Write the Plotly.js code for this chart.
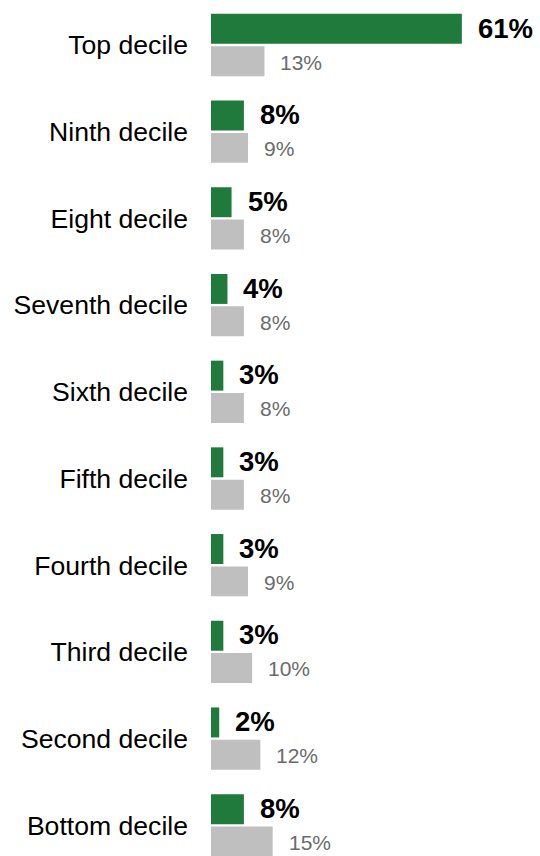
<!DOCTYPE html>
<html><head><meta charset="utf-8">
<script src="https://cdn.plot.ly/plotly-3.0.1.min.js"></script>
<style>html,body{margin:0;padding:0;background:#fff}#chart{width:540px;height:856px}</style>
</head><body><div id="chart"></div>
<script>
const categories = ["Top decile","Ninth decile","Eight decile","Seventh decile","Sixth decile","Fifth decile","Fourth decile","Third decile","Second decile","Bottom decile"];
const greenValues = [61, 8, 5, 4, 3, 3, 3, 3, 2, 8];
const greyValues = [13, 9, 8, 8, 8, 8, 9, 10, 12, 15];
const greenLabels = greenValues.map(v => v + "%");
const greyLabels = greyValues.map(v => v + "%");

const FONT = "Liberation Sans, Arial, sans-serif";
const GREEN = "#1f7a3b";
const GREY = "#bfbfbf";

const traces = [
  {type:"bar", orientation:"h", y:categories, x:greenValues, marker:{color:GREEN}, hoverinfo:"none", name:"a"},
  {type:"bar", orientation:"h", y:categories, x:greyValues, marker:{color:GREY}, hoverinfo:"none", name:"b"}
];

const annotations = [];
categories.forEach((c,i) => {
  annotations.push({x:greenValues[i], y:c, xref:"x", yref:"y", text:"<b>"+greenLabels[i]+"</b>", showarrow:false, xanchor:"left", yanchor:"middle", xshift:14, yshift:17, font:{family:FONT, size:27.5, color:"#000"}});
  annotations.push({x:greyValues[i], y:c, xref:"x", yref:"y", text:greyLabels[i], showarrow:false, xanchor:"left", yanchor:"middle", xshift:14, yshift:-17, font:{family:FONT, size:21, color:"#6b6b6b"}});
});

const layout = {
  width:540, height:856,
  margin:{l:211, r:0, t:0, b:0, pad:0},
  paper_bgcolor:"#fff", plot_bgcolor:"#fff",
  barmode:"group", bargap:0.254, bargroupgap:0.073,
  showlegend:false,
  font:{family:FONT},
  xaxis:{range:[0,80], showgrid:false, zeroline:false, showline:false, showticklabels:false, ticks:""},
  yaxis:{type:"category", range:[9.354,-0.519], showgrid:false, zeroline:false, showline:false, ticks:"", ticklabelstandoff:22, tickfont:{family:FONT, size:26.6, color:"#000"}},
  annotations:annotations
};
Plotly.newPlot("chart", traces, layout, {displayModeBar:false, staticPlot:true});
</script></body></html>
